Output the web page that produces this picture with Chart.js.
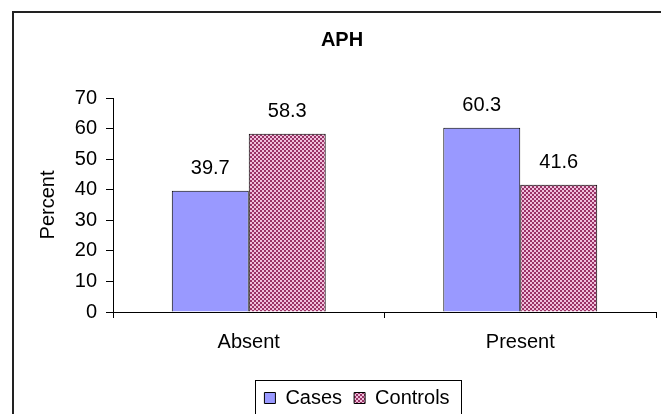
<!DOCTYPE html>
<html>
<head>
<meta charset="utf-8">
<script src="https://cdn.jsdelivr.net/npm/chart.js@4.4.1/dist/chart.umd.min.js"></script>
<style>
  body { margin: 0; background: #fff; overflow: hidden; }
  canvas { display: block; }
</style>
</head>
<body>
<canvas id="myChart" width="661" height="414"></canvas>
<script>
var categories = ['Absent', 'Present'];
var casesValues = [39.7, 60.3];
var controlsValues = [58.3, 41.6];
var yTicks = [0, 10, 20, 30, 40, 50, 60, 70];

// checker pattern for the controls bars
function makePattern() {
  var c = document.createElement('canvas');
  c.width = 4;
  c.height = 4;
  var p = c.getContext('2d');
  p.fillStyle = '#993366';
  p.fillRect(0, 0, 4, 4);
  p.fillStyle = '#f0c0dc';
  p.fillRect(0, 0, 2, 2);
  p.fillRect(2, 2, 2, 2);
  return p.createPattern(c, 'repeat');
}

var framePlugin = {
  id: 'frame',
  beforeDraw: function(chart) {
    var ctx = chart.ctx;
    ctx.save();
    ctx.fillStyle = '#fff';
    ctx.fillRect(0, 0, chart.width, chart.height);
    ctx.strokeStyle = '#222';
    ctx.lineWidth = 2;
    ctx.strokeRect(13, 12, 700, 500);
    ctx.restore();
  },
  afterLayout: function(chart) {
    // legend sits a bit right of centre in the original
    chart.legend.left += 15;
    chart.legend.right += 15;
  },
  afterDraw: function(chart) {
    var boxes = chart.legend.legendHitBoxes;
    if (!boxes || !boxes.length) return;
    var last = boxes[boxes.length - 1];
    var left = boxes[0].left - 9;
    var right = last.left + last.width + 12;
    var ctx = chart.ctx;
    ctx.save();
    ctx.strokeStyle = '#000';
    ctx.lineWidth = 1;
    ctx.strokeRect(Math.round(left) + 0.5, 380.5, Math.round(right - left), 60);
    ctx.restore();
  }
};

var valueLabels = {
  id: 'valueLabels',
  afterDatasetsDraw: function(chart) {
    var ctx = chart.ctx;
    ctx.save();
    ctx.font = '20px "Liberation Sans", Arial, sans-serif';
    ctx.fillStyle = '#000';
    ctx.textAlign = 'center';
    ctx.textBaseline = 'middle';
    chart.data.datasets.forEach(function(ds, i) {
      chart.getDatasetMeta(i).data.forEach(function(bar, j) {
        ctx.fillText(ds.data[j].toFixed(1), bar.x, bar.y - 22);
      });
    });
    ctx.restore();
  }
};

Chart.defaults.font.family = '"Liberation Sans", Arial, sans-serif';
Chart.defaults.font.size = 20;
Chart.defaults.color = '#000';

const ctx = document.getElementById('myChart');
new Chart(ctx, {
  type: 'bar',
  data: {
    labels: categories,
    datasets: [{
      label: 'Cases',
      data: casesValues,
      backgroundColor: '#9999ff',
      borderColor: '#000',
      borderWidth: 1
    }, {
      label: 'Controls',
      data: controlsValues,
      backgroundColor: makePattern(),
      borderColor: '#000',
      borderWidth: 1
    }]
  },
  options: {
    responsive: false,
    animation: false,
    categoryPercentage: 0.567,
    barPercentage: 1,
    layout: {
      padding: { left: 28, right: 5, top: 0, bottom: 0 }
    },
    plugins: {
      title: {
        display: true,
        text: 'APH',
        font: { size: 20, weight: 'bold' },
        padding: { top: 28, bottom: 46 }
      },
      legend: {
        position: 'bottom',
        maxHeight: 38,
        labels: {
          boxWidth: 11,
          boxHeight: 11,
          padding: 12,
          font: { size: 20 }
        }
      },
      tooltip: { enabled: false }
    },
    scales: {
      x: {
        grid: {
          offset: true,
          drawOnChartArea: false,
          tickLength: 6,
          color: '#000'
        },
        border: { color: '#000', width: 1 },
        ticks: { padding: 12 },
        afterFit: function(scale) {
          scale.height = 64;
        }
      },
      y: {
        min: 0,
        max: 70,
        afterBuildTicks: function(scale) {
          scale.ticks = yTicks.map(function(v) { return { value: v }; });
        },
        grid: {
          drawOnChartArea: false,
          tickLength: 7,
          color: '#000'
        },
        border: { color: '#000', width: 1 },
        ticks: { padding: 9 },
        title: {
          display: true,
          text: 'Percent',
          font: { size: 20 },
          padding: { top: 8, bottom: 0 }
        },
        afterFit: function(scale) {
          scale.width = 85;
        }
      }
    }
  },
  plugins: [framePlugin, valueLabels]
});
</script>
</body>
</html>
